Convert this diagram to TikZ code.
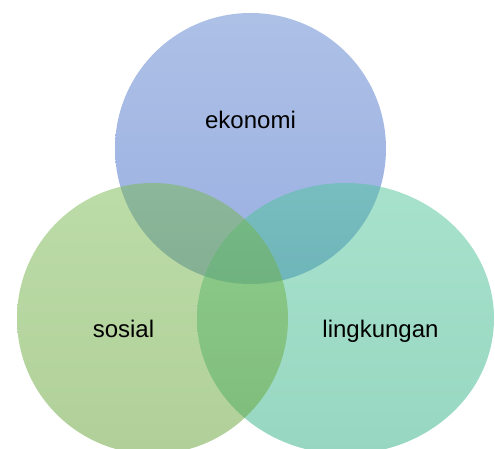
\documentclass[tikz,border=0pt]{standalone}
\usepackage{fontspec}
\setmainfont{Liberation Sans}
\usepackage{tikz}
\usetikzlibrary{shapes.geometric, positioning}
\definecolor{vennBlueTop}{RGB}{92,130,206}
\definecolor{vennBlueBot}{RGB}{52,96,196}
\definecolor{vennGreenTop}{RGB}{121,185,81}
\definecolor{vennGreenBot}{RGB}{99,161,51}
\definecolor{vennTealTop}{RGB}{81,197,155}
\definecolor{vennTealBot}{RGB}{47,175,131}
\tikzset{
  venn/set/.style   = {ellipse, inner sep=0pt, minimum height=271pt, fill opacity=0.5,
                       draw=none, shade, shading angle=0},
  venn/blue/.style  = {venn/set, top color=vennBlueTop,  bottom color=vennBlueBot},
  venn/green/.style = {venn/set, top color=vennGreenTop, bottom color=vennGreenBot},
  venn/teal/.style  = {venn/set, top color=vennTealTop,  bottom color=vennTealBot},
  venn/label/.style = {anchor=base, inner sep=0pt, text=black,
                       font=\fontsize{24}{28}\selectfont},
}

\begin{document}
\begin{tikzpicture}[x=1pt, y=-1pt]
  \useasboundingbox (0,0) rectangle (495,449);
  % three sets, blue underneath
  \node[venn/blue,  minimum width=271pt] (eko) at (250.5,148.5) {};
  \node[venn/teal,  minimum width=297pt] (lin) at (345.5,318.5) {};
  \node[venn/green, minimum width=271pt] (sos) at (152.5,318.5) {};
  % labels
  \node[venn/label] (ekolabel) at (250.5,129) {ekonomi};
  \node[venn/label] (soslabel) at (123.5,337) {sosial};
  \node[venn/label] (linlabel) at (380.5,337) {lingkungan};
\end{tikzpicture}
\end{document}
